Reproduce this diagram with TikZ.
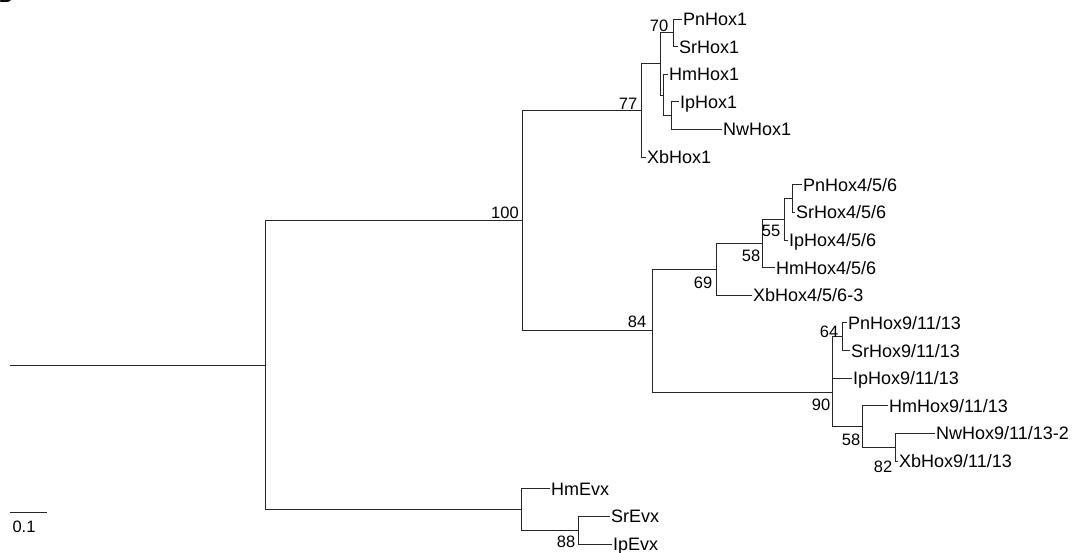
\documentclass[tikz,border=0pt]{standalone}
\usepackage{fontspec}
\setmainfont{Liberation Sans}
\begin{document}
\begin{tikzpicture}[x=1pt,y=-1pt,
  br/.style={draw=black!85, line width=0.9pt},
  leaf/.style={anchor=west, inner xsep=1pt, inner ysep=0pt, font=\fontsize{18}{20}\selectfont, text height=12.9pt, text depth=0pt},
  bs/.style={inner sep=0pt, font=\fontsize{16.5}{18}\selectfont, text height=11.8pt, text depth=0pt}]
\useasboundingbox (0,0) rectangle (1080,553);
\clip (0,0) rectangle (1080,553);
% panel letter (cut off at the top edge, as in the reference)
\node[anchor=base west, inner sep=0pt, font=\fontsize{18}{20}\selectfont\bfseries] (panel) at (-1.2,3) {B};
% leaves
\node[leaf] (PnHox1) at (682,19.0) {PnHox1};
\node[leaf] (SrHox1) at (678,46.6) {SrHox1};
\node[leaf] (HmHox1) at (668,74.3) {HmHox1};
\node[leaf] (IpHox1) at (679,101.9) {IpHox1};
\node[leaf] (NwHox1) at (722,129.5) {NwHox1};
\node[leaf] (XbHox1) at (646,157.2) {XbHox1};
\node[leaf] (Pn456) at (802,184.8) {PnHox4/5/6};
\node[leaf] (Sr456) at (795,212.4) {SrHox4/5/6};
\node[leaf] (Ip456) at (788,240.0) {IpHox4/5/6};
\node[leaf] (Hm456) at (775,267.7) {HmHox4/5/6};
\node[leaf] (Xb456) at (752,295.3) {XbHox4/5/6-3};
\node[leaf] (Pn9) at (847,322.9) {PnHox9/11/13};
\node[leaf] (Sr9) at (850,350.6) {SrHox9/11/13};
\node[leaf] (Ip9) at (852,378.2) {IpHox9/11/13};
\node[leaf] (Hm9) at (888,405.8) {HmHox9/11/13};
\node[leaf] (Nw9) at (935,433.5) {NwHox9/11/13-2};
\node[leaf] (Xb9) at (898,461.1) {XbHox9/11/13};
\node[leaf] (HmEvx) at (550,488.7) {HmEvx};
\node[leaf] (SrEvx) at (610,516.3) {SrEvx};
\node[leaf] (IpEvx) at (612,544.0) {IpEvx};
% internal nodes
\coordinate (n70) at (673,32.8);
\coordinate (nC) at (671,115.7);
\coordinate (nB) at (663,95.0);
\coordinate (nA) at (660,63.9);
\coordinate (n77) at (641,110.5);
\coordinate (nPS) at (792,198.6);
\coordinate (n55) at (784,219.3);
\coordinate (n58a) at (762,243.5);
\coordinate (n69) at (716,269.4);
\coordinate (n64) at (842,336.8);
\coordinate (n82) at (895,447.3);
\coordinate (n58b) at (862,426.6);
\coordinate (n90) at (832,392.0);
\coordinate (n84) at (652,330.7);
\coordinate (n100) at (522,220.6);
\coordinate (n88) at (578,530.2);
\coordinate (nEvx) at (521,509.4);
\coordinate (root) at (265,365.0);
\coordinate (root0) at (10,365.0);
% branches
\draw[br] (n70) |- (PnHox1.west);
\draw[br] (n70) |- (SrHox1.west);
\draw[br] (nC) |- (IpHox1.west);
\draw[br] (nC) |- (NwHox1.west);
\draw[br] (nB) |- (HmHox1.west);
\draw[br] (nB) |- (nC);
\draw[br] (nA) |- (n70);
\draw[br] (nA) |- (nB);
\draw[br] (n77) |- (nA);
\draw[br] (n77) |- (XbHox1.west);
\draw[br] (nPS) |- (Pn456.west);
\draw[br] (nPS) |- (Sr456.west);
\draw[br] (n55) |- (nPS);
\draw[br] (n55) |- (Ip456.west);
\draw[br] (n58a) |- (n55);
\draw[br] (n58a) |- (Hm456.west);
\draw[br] (n69) |- (n58a);
\draw[br] (n69) |- (Xb456.west);
\draw[br] (n64) |- (Pn9.west);
\draw[br] (n64) |- (Sr9.west);
\draw[br] (n82) |- (Nw9.west);
\draw[br] (n82) |- (Xb9.west);
\draw[br] (n58b) |- (Hm9.west);
\draw[br] (n58b) |- (n82);
\draw[br] (n90) |- (n64);
\draw[br] (n90) |- (Ip9.west);
\draw[br] (n90) |- (n58b);
\draw[br] (n84) |- (n69);
\draw[br] (n84) |- (n90);
\draw[br] (n100) |- (n77);
\draw[br] (n100) |- (n84);
\draw[br] (n88) |- (SrEvx.west);
\draw[br] (n88) |- (IpEvx.west);
\draw[br] (nEvx) |- (HmEvx.west);
\draw[br] (nEvx) |- (n88);
\draw[br] (root) |- (n100);
\draw[br] (root) |- (nEvx);
\draw[br] (root0) -- (root);
% bootstrap values
\node[bs] (b70) at (659,26) {70};
\node[bs] (b77) at (628,104) {77};
\node[bs] (b100) at (505,213) {100};
\node[bs] (b55) at (771,231) {55};
\node[bs] (b58a) at (751,256) {58};
\node[bs] (b69) at (703,283) {69};
\node[bs] (b84) at (637,322) {84};
\node[bs] (b64) at (829,332) {64};
\node[bs] (b90) at (821,405) {90};
\node[bs] (b58b) at (851,440) {58};
\node[bs] (b82) at (883,467) {82};
\node[bs] (b88) at (566,542) {88};
% scale bar
\coordinate (sb0) at (10,512);
\coordinate (sb1) at (47,512);
\draw[br] (sb0) -- (sb1);
\node[bs] (sbl) at (24,527) {0.1};
\end{tikzpicture}
\end{document}
